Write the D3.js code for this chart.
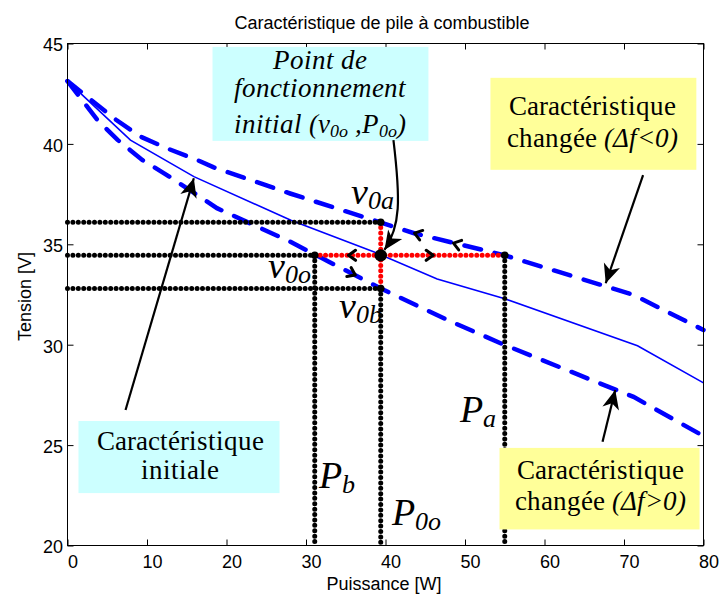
<!DOCTYPE html>
<html><head><meta charset="utf-8">
<script src="https://d3js.org/d3.v7.min.js"></script>
<style>
@font-face{font-family:"SerifX";font-style:normal;src:local("Liberation Serif"),local("LiberationSerif"),local("LiberationSerif-Regular"),local("DejaVu Serif"),local("DejaVuSerif");}
@font-face{font-family:"SerifX";font-style:italic;src:local("Liberation Serif Italic"),local("LiberationSerif-Italic"),local("DejaVu Serif Italic"),local("DejaVuSerif-Italic");}
body{margin:0;background:#fff}
.sans{font-family:"Liberation Sans",Arial,Helvetica,sans-serif}
.serif{font-family:"SerifX","Liberation Serif","Times New Roman",Times,"DejaVu Serif",serif}
</style>
</head><body>
<svg id="chart" width="721" height="594"></svg>
<script>
// ---------- data ----------
const xTicks = [0,10,20,30,40,50,60,70,80];
const yTicks = [20,25,30,35,40,45];
const initP = [0,7.92,15.9,28.1,38.5,46.5,54.9,71.7,80];
const initV = [43.13,40.19,38.37,36.2,34.63,33.27,32.3,29.95,28.1];
const upP = [0,6.1,9.2,12.5,16.3,18.4,28,37.7,43.6,55,71.2,80];
const upV = [43.13,41.2,40.36,39.78,39.2,38.83,37.53,36.3,35.55,34.45,32.48,30.73];
const loP = [0,3.75,6.3,9.4,12.5,18.8,28,39.4,47.8,54.9,71.2,80];
const loV = [43.13,41.2,40.2,39.2,38.45,36.8,35.13,32.8,31.23,30.0,27.4,25.45];
// operating points
const P0 = 39.4, Pa = 55, Pb = 31.1;
const V0a = 36.1, V0o = 34.45, V0b = 32.8;

// ---------- layout ----------
const svg = d3.select('#chart');
const x = d3.scaleLinear().domain([0,80]).range([67.5,703.5]);
const y = d3.scaleLinear().domain([20,45]).range([545.5,43.5]);

const line = d3.line().x(d=>x(d[0])).y(d=>y(d[1]));
const zip = (a,b)=>a.map((v,i)=>[v,b[i]]);

// curves
svg.append('path').attr('d', line(zip(initP,initV))).attr('fill','none')
  .attr('stroke','#0000ff').attr('stroke-width',1.6);
svg.append('path').attr('d', line(zip(upP,upV))).attr('fill','none')
  .attr('stroke','#0000ff').attr('stroke-width',4.5).attr('stroke-linecap','round')
  .attr('stroke-dasharray','17,14');
svg.append('path').attr('d', line(zip(loP,loV))).attr('fill','none')
  .attr('stroke','#0000ff').attr('stroke-width',4.5).attr('stroke-linecap','round')
  .attr('stroke-dasharray','17,14');

// dotted guide lines
const blackSegs = [
  [[0,V0a],[P0,V0a]], [[0,V0o],[Pb,V0o]], [[0,V0b],[P0,V0b]],
  [[Pb,V0o],[Pb,20]], [[P0,V0b],[P0,20]], [[Pa,V0o],[Pa,20]]
];
const redSegs = [ [[Pb,V0o],[Pa,V0o]], [[P0,V0a],[P0,V0b]] ];
function dotted(segs, col){
  svg.append('g').selectAll('path').data(segs).join('path')
    .attr('d', d=>line(d)).attr('fill','none').attr('stroke',col)
    .attr('stroke-width',5).attr('stroke-linecap','round').attr('stroke-dasharray','0,5.4');
}
dotted(blackSegs,'#000');
dotted(redSegs,'#ff0000');

// markers
const smallDots = [[P0,V0a],[Pb,V0o],[Pa,V0o],[P0,V0b]];
svg.append('g').selectAll('circle').data(smallDots).join('circle')
  .attr('cx',d=>x(d[0])).attr('cy',d=>y(d[1])).attr('r',3.8).attr('fill','#000');
svg.append('circle').attr('cx',x(P0)).attr('cy',y(V0o)).attr('r',6.2).attr('fill','#000');

// small chevron arrows: [x, y, dirX, dirY] in data units
const chevrons = [
  [35.35,V0o,-1,0], [46.0,V0o,1,0],
  [43.65,35.56,-5.9,0.75], [48.55,35.06,-5.9,0.72],
  [36.2,33.47,3.2,-0.6]
];
function angOf(px,py,dx,dy){ return Math.atan2(y(py+dy)-y(py), x(px+dx)-x(px)); }
chevrons.forEach(c=>{
  const a = angOf(c[0],c[1],c[2],c[3]);
  const cx = x(c[0]), cy = y(c[1]);
  const pts = [[-7,5],[0,0],[-7,-5]].map(p=>[cx+p[0]*Math.cos(a)-p[1]*Math.sin(a), cy+p[0]*Math.sin(a)+p[1]*Math.cos(a)]);
  svg.append('path').attr('d', d3.line()(pts)).attr('fill','none').attr('stroke','#000')
    .attr('stroke-width',3).attr('stroke-linejoin','round').attr('stroke-linecap','round');
});

// axes frame
svg.append('rect').attr('x',x(0)).attr('y',y(45)).attr('width',x(80)-x(0)).attr('height',y(20)-y(45))
  .attr('fill','none').attr('stroke','#000').attr('stroke-width',1);
const gb = svg.append('g').attr('transform',`translate(0,${y(20)})`)
  .call(d3.axisBottom(x).tickValues(xTicks).tickSizeInner(-6).tickSizeOuter(0));
gb.select('.domain').remove();
gb.attr('font-family',null).attr('font-size',null).attr('class','sans');
gb.selectAll('text').attr('y',22.5).attr('dy',0).attr('dx',5).style('font-size','18px').attr('fill','#000');
const gt = svg.append('g').attr('transform',`translate(0,${y(45)})`)
  .call(d3.axisTop(x).tickValues(xTicks).tickSizeInner(-6).tickSizeOuter(0).tickFormat(''));
gt.select('.domain').remove();
const gl = svg.append('g').attr('transform',`translate(${x(0)},0)`)
  .call(d3.axisLeft(y).tickValues(yTicks).tickSizeInner(-6).tickSizeOuter(0));
gl.select('.domain').remove();
gl.attr('font-family',null).attr('font-size',null).attr('class','sans');
gl.selectAll('text').attr('x',-4.5).attr('dy','0.36em').attr('y',1).style('font-size','18px').attr('fill','#000');
const gr = svg.append('g').attr('transform',`translate(${x(80)},0)`)
  .call(d3.axisRight(y).tickValues(yTicks).tickSizeInner(-6).tickSizeOuter(0).tickFormat(''));
gr.select('.domain').remove();
svg.selectAll('.tick line').attr('stroke','#000');

// title and axis labels
svg.append('text').attr('class','sans').attr('x',382).attr('y',29).attr('text-anchor','middle')
  .style('font-size','18px').text('Caractéristique de pile à combustible');
svg.append('text').attr('class','sans').attr('x',384).attr('y',590).attr('text-anchor','middle')
  .style('font-size','18px').text('Puissance [W]');
svg.append('text').attr('class','sans').attr('transform','translate(31,296.5) rotate(-90)').attr('text-anchor','middle')
  .style('font-size','18px').text('Tension [V]');

// annotation boxes (data units)
const boxes = [
  {x0:18.24,x1:45.4,y0:44.83,y1:40.15,fill:'#ccffff'},
  {x0:53.2,x1:79.1,y0:43.29,y1:38.71,fill:'#ffff99'},
  {x0:1.38,x1:26.67,y0:26.2,y1:22.61,fill:'#ccffff'},
  {x0:54.34,x1:79.5,y0:24.86,y1:20.8,fill:'#ffff99'}
];
svg.append('g').selectAll('rect').data(boxes).join('rect')
  .attr('x',d=>x(d.x0)).attr('y',d=>y(d.y0)).attr('width',d=>x(d.x1)-x(d.x0)).attr('height',d=>y(d.y1)-y(d.y0))
  .attr('fill',d=>d.fill);

function boxText(cx, by, parts, italic){
  const t = svg.append('text').attr('class','serif').attr('x',cx).attr('y',by).attr('text-anchor','middle')
    .style('font-size','27px').attr('fill','#000');
  if(italic) t.style('font-style','italic');
  parts.forEach(p=>{
    const s = t.append('tspan').text(p.t);
    if(p.it) s.style('font-style','italic');
    if(p.fs) s.style('font-size',p.fs+'px');
    if(p.dy) s.attr('dy',p.dy);
  });
}
boxText(x(31.8), y(43.73), [{t:'Point de'}], true);
boxText(x(31.8), y(42.34), [{t:'fonctionnement'}], true);
boxText(x(31.8), y(40.54), [{t:'initial (v'},{t:'0o',fs:18,dy:4},{t:' ,P',dy:-4},{t:'0o',fs:18,dy:4},{t:')',dy:-4}], true);
boxText(x(66.1), y(41.44), [{t:'Caractéristique'}]);
boxText(x(66.1), y(39.86), [{t:'changée '},{t:'(Δf<0)',it:true}]);
boxText(x(14.2), y(24.75), [{t:'Caractéristique'}]);
boxText(x(14.2), y(23.3), [{t:'initiale'}]);
boxText(x(67.0), y(23.3), [{t:'Caractéristique'}]);
boxText(x(67.0), y(21.77), [{t:'changée '},{t:'(Δf>0)',it:true}]);

// italic point labels
const labels = [
  {m:'v',s:'0a',p:35.6,v:37.0},
  {m:'v',s:'0o',p:25.16,v:33.32},
  {m:'v',s:'0b',p:34.1,v:31.33},
  {m:'P',s:'a',p:49.4,v:26.16},
  {m:'P',s:'b',p:31.6,v:22.86},
  {m:'P',s:'0o',p:40.85,v:21.02}
];
labels.forEach(l=>{
  const t = svg.append('text').attr('class','serif').attr('x',x(l.p)).attr('y',y(l.v))
    .style('font-style','italic').style('font-size','38px').attr('fill','#000');
  t.append('tspan').text(l.m);
  t.append('tspan').style('font-size','26px').attr('dy',5).text(l.s);
});

// arrows
function head(tx,ty,a,L,W){
  const pts=[[0,0],[-L,W],[-0.72*L,0],[-L,-W]].map(p=>[tx+p[0]*Math.cos(a)-p[1]*Math.sin(a), ty+p[0]*Math.sin(a)+p[1]*Math.cos(a)]);
  svg.append('path').attr('d', d3.line()(pts)+'Z').attr('fill','#000');
}
const straightArrows = [
  [[7.3,26.75],[15.89,38.29]],
  [[72.4,38.45],[67.7,33.06]],
  [[67.3,25.17],[68.9,27.74]]
];
straightArrows.forEach(a=>{
  const x1=x(a[0][0]), y1=y(a[0][1]), x2=x(a[1][0]), y2=y(a[1][1]);
  svg.append('line').attr('x1',x1).attr('y1',y1).attr('x2',x2).attr('y2',y2)
    .attr('stroke','#000').attr('stroke-width',2.2);
  head(x2,y2,Math.atan2(y2-y1,x2-x1),19,8.5);
});
// curved arrow to operating point
const cArrow = [[41.0,40.19],[41.9,37.2],[41.9,35.9],[39.87,34.72]];
const cp = cArrow.map(p=>[x(p[0]),y(p[1])]);
const pth = d3.path();
pth.moveTo(cp[0][0],cp[0][1]);
pth.bezierCurveTo(cp[1][0],cp[1][1],cp[2][0],cp[2][1],cp[3][0],cp[3][1]);
svg.append('path').attr('d',pth.toString()).attr('fill','none').attr('stroke','#000').attr('stroke-width',2.2);
head(cp[3][0],cp[3][1],Math.atan2(cp[3][1]-cp[2][1],cp[3][0]-cp[2][0]),19,8.5);
</script>
</body></html>
